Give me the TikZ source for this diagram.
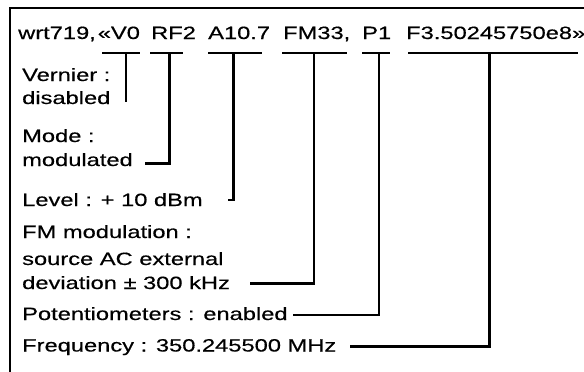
\documentclass[tikz,border=0pt]{standalone}
\usepackage{fontspec}
\setmainfont{Liberation Sans}[FakeStretch=1.33,FakeBold=0.45]
\begin{document}
\begin{tikzpicture}[x=1pt,y=-1pt,
  lbl/.style={anchor=base west, inner sep=0pt, font=\fontsize{17.8}{21}\selectfont},
  frame/.style={line width=2.6pt},
  bar/.style={line width=2.6pt},
  lead/.style={line width=2.2pt}]
\useasboundingbox (0,0) rectangle (584,372);
\draw[frame] (10,380) -- (10,8) -- (592,8);
% top command line
\node[lbl] (t0) at (18,39) {wrt719,\kern2pt«V0};
\node[lbl] (t1) at (151,39) {RF2};
\node[lbl] (t2) at (208,39) {A10.7};
\node[lbl] (t3) at (283,39) {FM33,};
\node[lbl] (t4) at (362,39) {P1};
\node[lbl] (t5) at (406,39) {F3.50245750e8»};
% underline bars
\draw[bar] (102,53) -- (140,53);
\draw[bar] (150,53) -- (183,53);
\draw[bar] (208,53) -- (262,53);
\draw[bar] (282,53) -- (347,53);
\draw[bar] (362,53) -- (390,53);
\draw[bar] (408,53) -- (578,53);
\coordinate (b0) at (126,53);
\coordinate (b1) at (169.5,53);
\coordinate (b2) at (233.5,53);
\coordinate (b3) at (314,53);
\coordinate (b4) at (379,53);
\coordinate (b5) at (489.5,53);
% labels
\node[lbl] (vern) at (22,81) {Vernier :};
\node[lbl] (vdis) at (22,104) {disabled};
\node[lbl] (mode) at (22,142) {Mode :};
\node[lbl] (mmod) at (22,166) {modulated};
\node[lbl] (lev)  at (22,206) {Level : + 10 dBm};
\node[lbl] (fm1)  at (22,238) {FM modulation :};
\node[lbl] (fm2)  at (22,265) {source AC external};
\node[lbl] (fm3)  at (22,289) {deviation ± 300 kHz};
\node[lbl] (pot)  at (22,320) {Potentiometers : enabled};
\node[lbl] (freq) at (22,351.5) {Frequency : 350.245500 MHz};
% connector ends
\coordinate (e0) at (126,102);
\coordinate (e1) at (145,163.5);
\coordinate (e2) at (228,200);
\coordinate (e3) at (250,283.5);
\coordinate (e4) at (293,315);
\coordinate (e5) at (350,346.5);
\draw[lead] (b0) -- (e0);
\draw[lead] (b1) |- (e1);
\draw[lead] (b2) |- (e2);
\draw[lead] (b3) |- (e3);
\draw[lead] (b4) |- (e4);
\draw[lead] (b5) |- (e5);
\end{tikzpicture}
\end{document}
